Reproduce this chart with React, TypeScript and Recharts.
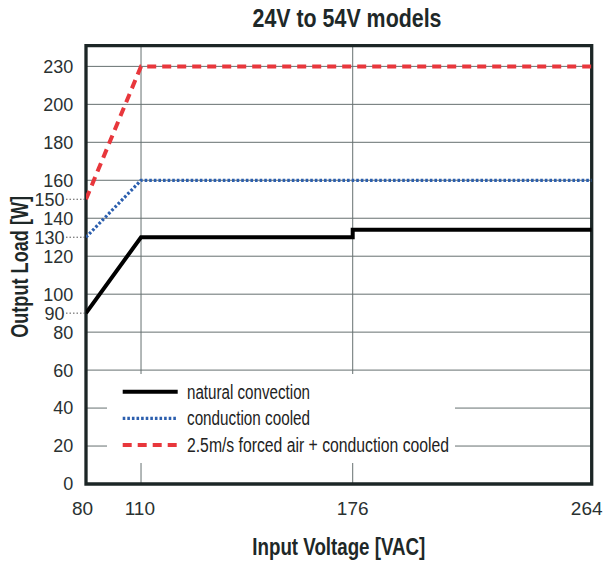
import React from 'react';
import { LineChart, Line, XAxis, YAxis, CartesianGrid, ReferenceArea, Legend, Label } from 'recharts';

// input voltage ticks and output load ticks
const X_TICKS = [80, 110, 176, 264];
const Y_TICKS = [0, 20, 40, 60, 80, 90, 100, 120, 130, 140, 150, 160, 180, 200, 230];
const Y_GRID = [0, 20, 40, 60, 80, 100, 120, 140, 160, 180, 200, 230];
const Y_MARKED = [90, 130, 150];

// derating curves
const SERIES_NAMES = ['natural convection', 'conduction cooled', '2.5m/s forced air + conduction cooled'];
const NATURAL_VAC = [80, 110, 176, 176, 264];
const NATURAL_W = [90, 130, 130, 134, 134];
const CONDUCTION_VAC = [80, 110, 264];
const CONDUCTION_W = [130, 160, 160];
const FORCED_VAC = [80, 110, 264];
const FORCED_W = [150, 230, 230];

// the original axes are not linear: break points and where they sit (0..1)
const X_BREAKS = [80, 110, 176, 264];
const X_BREAK_POS = [0, 0.1088, 0.5274, 1];
const Y_BREAKS = [0, 200, 230, 246];
const Y_BREAK_POS = [0, 0.8662, 0.9528, 1];

const TEXT = '#1e2828';
const GRID = '#667070';
const FRAME = '#1c2626';
const SANS = '"Liberation Sans", Arial, sans-serif';

// condensed look: squeeze text to the widths of the original
const LEGEND_TEXT_W = [123, 123, 262];

const zip = (v: number[], w: number[]) => v.map((vac, i) => ({ vac, w: w[i] }));
const natural = zip(NATURAL_VAC, NATURAL_W);
const conduction = zip(CONDUCTION_VAC, CONDUCTION_W);
const forced = zip(FORCED_VAC, FORCED_W);

function piecewiseScale(stops: number[], marks: number[]): any {
  let dom = [stops[0], stops[stops.length - 1]];
  let rng = [0, 1];
  const scale: any = (v: number) => {
    let i = 0;
    while (i < stops.length - 2 && v > stops[i + 1]) i++;
    const t = marks[i] + ((v - stops[i]) / (stops[i + 1] - stops[i])) * (marks[i + 1] - marks[i]);
    return rng[0] + t * (rng[1] - rng[0]);
  };
  scale.domain = (d?: number[]) => (d === undefined ? dom : ((dom = d), scale));
  scale.range = (r?: number[]) => (r === undefined ? rng : ((rng = r), scale));
  scale.copy = () => piecewiseScale(stops, marks).domain(dom).range(rng);
  scale.ticks = () => stops;
  scale.invert = (px: number) => {
    const t = (px - rng[0]) / (rng[1] - rng[0]);
    let i = 0;
    while (i < marks.length - 2 && t > marks[i + 1]) i++;
    return stops[i] + ((t - marks[i]) / (marks[i + 1] - marks[i])) * (stops[i + 1] - stops[i]);
  };
  return scale;
}

const xScale = piecewiseScale(X_BREAKS, X_BREAK_POS);
const yScale = piecewiseScale(Y_BREAKS, Y_BREAK_POS);

const tickFont = { fontFamily: SANS, fill: '#2a3131' };
const titleFont = { fontFamily: SANS, fontWeight: 700 as const, fill: TEXT, lengthAdjust: 'spacingAndGlyphs' };

const XTick = (props: any) => {
  const { x, y, payload } = props;
  const shift: Record<number, number> = { 80: -3.5, 110: -1.2, 264: -5 };
  return (
    <text x={x + (shift[payload.value] || 0)} y={y + 31} textAnchor="middle" fontSize={19} {...tickFont}>
      {payload.value}
    </text>
  );
};

const YTick = (props: any) => {
  const { x, y, payload } = props;
  const marked = Y_MARKED.includes(payload.value);
  return (
    <g>
      {marked && <line x1={x - 20} x2={x - 1} y1={y} y2={y} stroke="#555" strokeWidth={1} strokeDasharray="1.5 2" />}
      <text x={x - (marked ? 21.5 : 12.7)} y={y + 6.4} textAnchor="end" fontSize={18} {...tickFont}>
        {payload.value}
      </text>
    </g>
  );
};

const XTitle = (props: any) => {
  const vb = props.viewBox;
  return (
    <text x={vb.x + vb.width / 2} y={vb.y + 71} textAnchor="middle" fontSize={23} textLength={173} {...titleFont}>
      Input Voltage [VAC]
    </text>
  );
};

const YTitle = (props: any) => {
  const vb = props.viewBox;
  const cx = vb.x + 12;
  const cy = vb.y + vb.height / 2 + 2;
  return (
    <text
      x={cx} y={cy} transform={`rotate(-90, ${cx}, ${cy})`} textAnchor="middle" dominantBaseline="central"
      fontSize={23} textLength={142} {...titleFont}
    >
      Output Load [W]
    </text>
  );
};

const LegendBox = ({ payload }: any) => {
  const rows = [17.7, 44.3, 71];
  const items = [...(payload || [])].sort((a: any, b: any) => SERIES_NAMES.indexOf(a.value) - SERIES_NAMES.indexOf(b.value));
  return (
    <svg width={348} height={89} style={{ display: 'block' }}>
      {items.map((entry: any, i: number) => (
        <g key={entry.value}>
          <line
            x1={15.7} x2={70.7} y1={rows[i]} y2={rows[i]}
            stroke={entry.color}
            strokeWidth={entry.payload?.strokeWidth ?? 4}
            strokeDasharray={entry.payload?.strokeDasharray}
          />
          <text
            x={80} y={rows[i] + 7} fontFamily={SANS} fontSize={20} fill="#222"
            textLength={LEGEND_TEXT_W[SERIES_NAMES.indexOf(entry.value)]} lengthAdjust="spacingAndGlyphs"
          >
            {entry.value}
          </text>
        </g>
      ))}
    </svg>
  );
};

export default function App() {
  return (
    <div style={{ position: 'absolute', left: 8, top: 8, width: 596, height: 553 }}>
      <LineChart width={596} height={553} margin={{ top: 37.7, right: 12.3, bottom: 0, left: 0 }}>
        <CartesianGrid horizontalValues={Y_GRID} verticalValues={[110, 176]} stroke={GRID} strokeWidth={1} />
        <XAxis
          type="number" dataKey="vac" domain={[80, 264]} allowDataOverflow scale={xScale}
          ticks={X_TICKS} interval={0} height={77} axisLine={false} tickLine={false}
          tickSize={0} tickMargin={0} tick={<XTick />}
        >
          <Label content={<XTitle />} />
        </XAxis>
        <YAxis
          type="number" dataKey="w" domain={[0, 246]} allowDataOverflow scale={yScale}
          ticks={Y_TICKS} interval={0} width={78} axisLine={false} tickLine={false}
          tickSize={0} tickMargin={0} tick={<YTick />}
        >
          <Label content={<YTitle />} />
        </YAxis>
        <ReferenceArea x1={80} x2={264} y1={0} y2={246} fill="none" stroke={FRAME} strokeWidth={3.3} ifOverflow="visible" />
        <Line data={natural} dataKey="w" name={SERIES_NAMES[0]} stroke="#000" strokeWidth={4} dot={false} activeDot={false} isAnimationActive={false} />
        <Line data={conduction} dataKey="w" name={SERIES_NAMES[1]} stroke="#2c5fae" strokeWidth={3.2} strokeDasharray="2.6 2" dot={false} activeDot={false} isAnimationActive={false} />
        <Line data={forced} dataKey="w" name={SERIES_NAMES[2]} stroke="#e8373c" strokeWidth={4} strokeDasharray="9 6" dot={false} activeDot={false} isAnimationActive={false} />
        <Legend
          layout="vertical" align="center" verticalAlign="middle"
          wrapperStyle={{ left: 99, top: 366, width: 348, height: 89, background: '#fff' }}
          content={(p: any) => <LegendBox payload={p.payload} />}
        />
      </LineChart>
      <svg width={596} height={30} style={{ position: 'absolute', left: 0, top: 0 }}>
        <text x={339} y={19.3} textAnchor="middle" fontSize={26} textLength={189} {...titleFont}>
          24V to 54V models
        </text>
      </svg>
    </div>
  );
}
